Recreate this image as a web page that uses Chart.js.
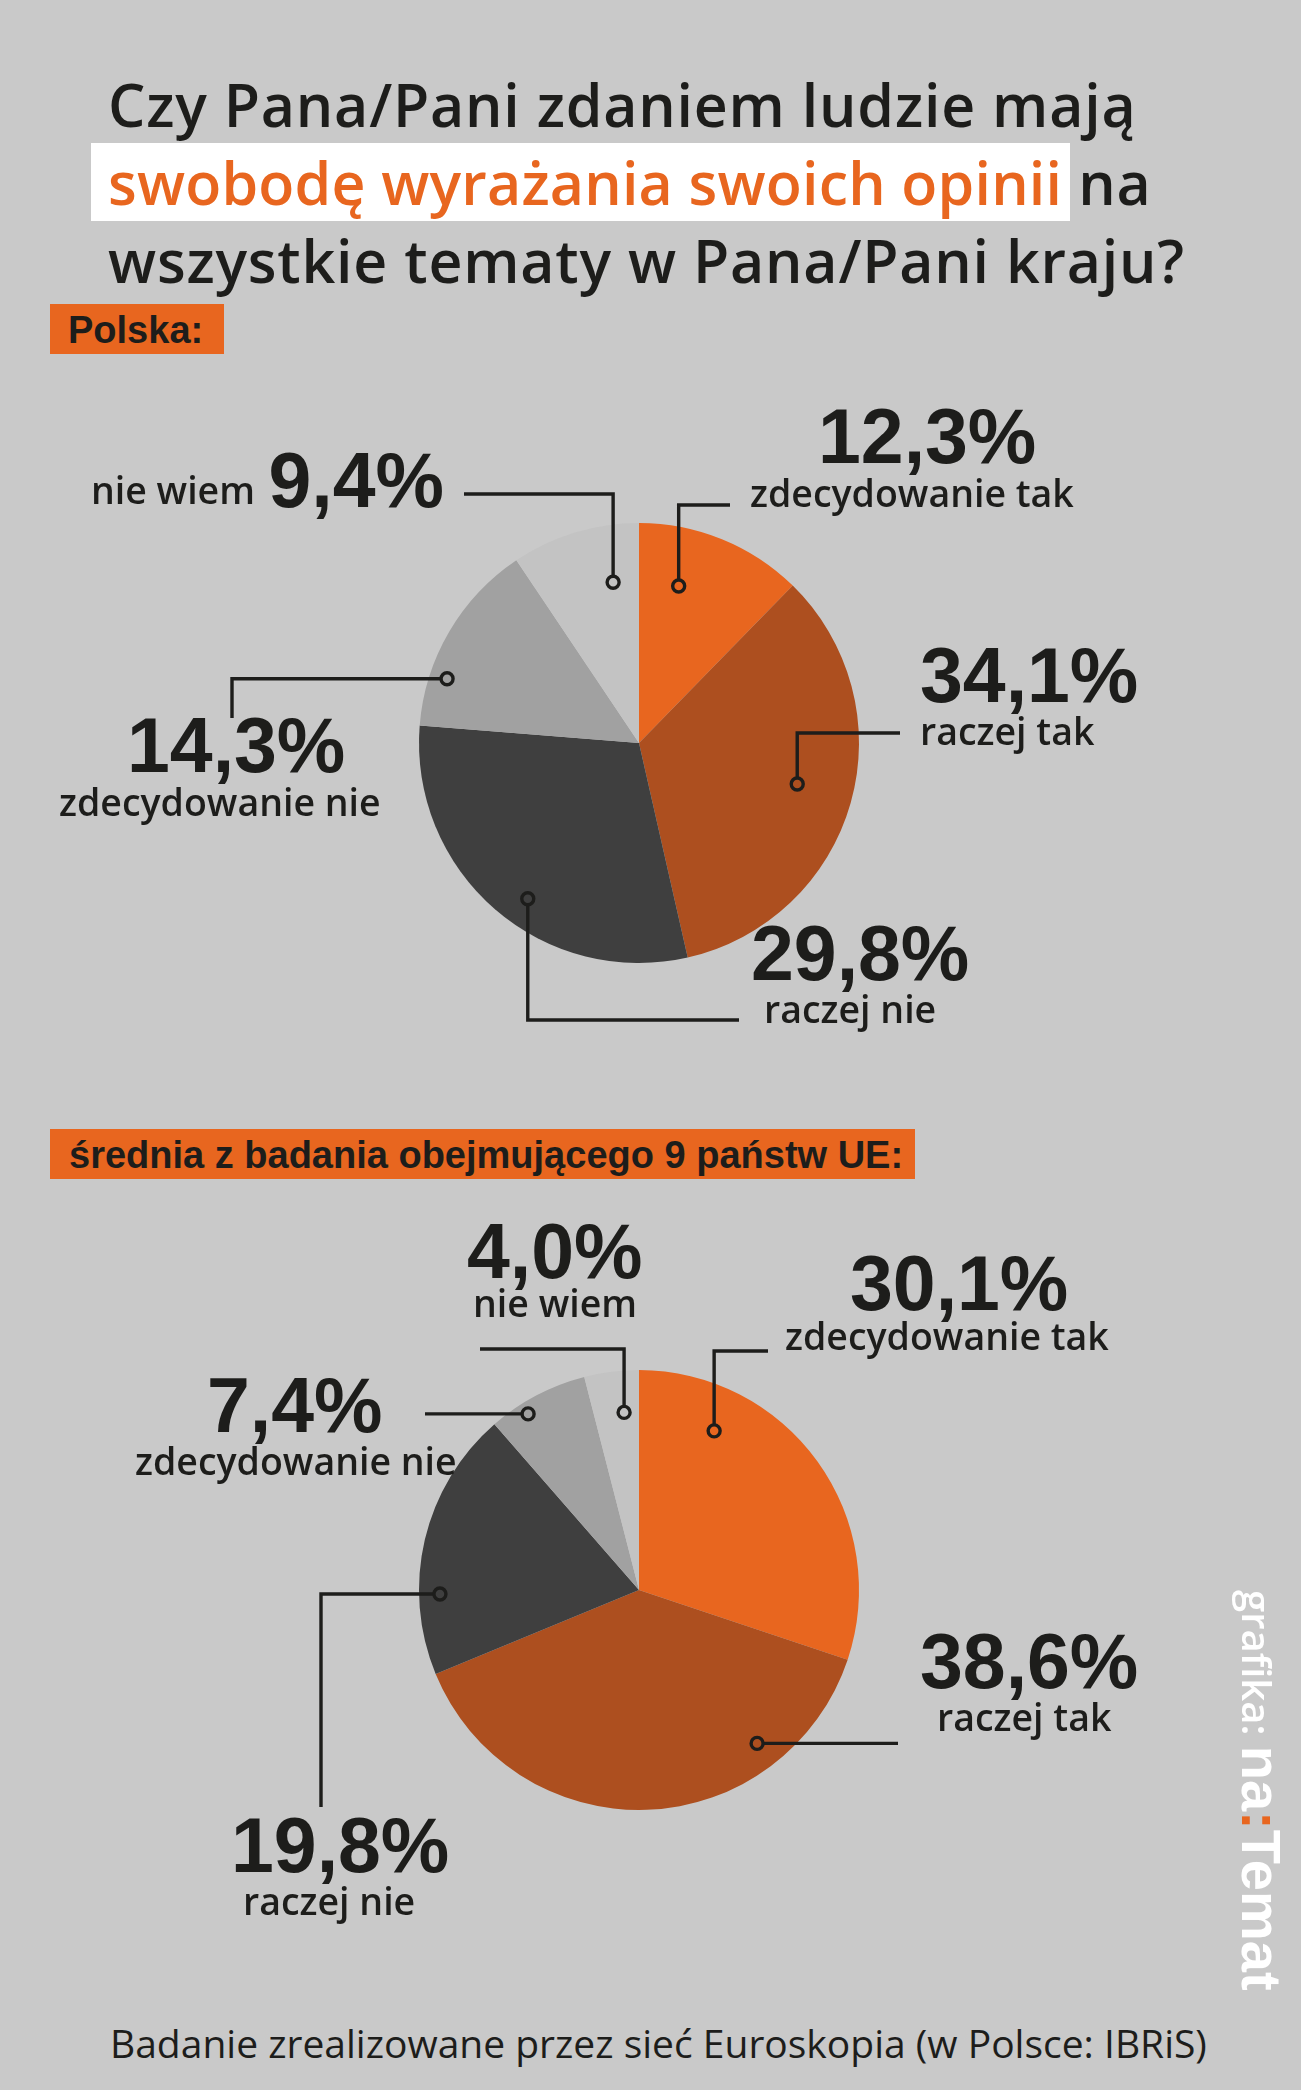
<!DOCTYPE html>
<html lang="pl">
<head>
<meta charset="utf-8">
<title>Swoboda wyrażania opinii</title>
<script src="https://cdn.jsdelivr.net/npm/chart.js@4.4.1/dist/chart.umd.min.js"></script>
<style>
  html, body { margin: 0; padding: 0; }
  body {
    width: 1301px; height: 2090px; position: relative; overflow: hidden;
    background: #c9c9c9; color: #1d1d1b;
  }
  .t { position: absolute; white-space: nowrap; line-height: 1.2; }
  .title { font-family: "Open Sans", sans-serif; font-weight: 600; font-size: 59px; letter-spacing: 0.8px; }
  .or { color: #e8661f; }
  .title .or { letter-spacing: 0.2px; }
  .hl { position: absolute; left: 91px; top: 143px; width: 979px; height: 78px; background: #fff; }
  .box { position: absolute; background: #e8661f; }
  .boxtxt { font-family: "Liberation Sans", Arial, sans-serif; font-weight: 700; font-size: 38px; }
  .foot { font-family: "Open Sans", sans-serif; font-weight: 500; font-size: 39px; }
  canvas { position: absolute; left: 0; }
  .mark {
    position: absolute; left: 1289px; top: 1590px; transform-origin: 0 0; transform: rotate(90deg);
    white-space: nowrap; color: #fff; font-family: "Liberation Sans", Arial, sans-serif;
    font-size: 56px; line-height: 56px;
  }
  .mark .g { font-family: "Open Sans", sans-serif; font-weight: 600; font-size: 40px; }
  .mark b { font-weight: 700; }
</style>
</head>
<body>

<div class="hl"></div>
<div class="t title" data-x="108" data-b="127">Czy Pana/Pani zdaniem ludzie mają</div>
<div class="t title" data-x="108" data-b="205"><span class="or">swobodę wyrażania swoich opinii</span> na</div>
<div class="t title" data-x="108" data-b="283">wszystkie tematy w Pana/Pani kraju?</div>

<div class="box" style="left:50px; top:304px; width:174px; height:50px;"></div>
<div class="t boxtxt" data-x="68" data-b="343">Polska:</div>

<canvas id="polskaChart" width="1301" height="700" style="top:370px"></canvas>

<div class="box" style="left:50px; top:1129px; width:865px; height:50px;"></div>
<div class="t boxtxt" data-x="69" data-b="1168">średnia z badania obejmującego 9 państw UE:</div>

<canvas id="ueChart" width="1301" height="760" style="top:1190px"></canvas>

<div class="t foot" data-x="110" data-b="2058">Badanie zrealizowane przez sieć Euroskopia (w Polsce: IBRiS)</div>

<div class="mark"><span class="g">grafika: </span><b>na<span class="or">:</span>Temat</b></div>

<script>
// data
const categories = ["zdecydowanie tak", "raczej tak", "raczej nie", "zdecydowanie nie", "nie wiem"];
const polskaValues = [12.3, 34.1, 29.8, 14.3, 9.4];
const ueValues = [30.1, 38.6, 19.8, 7.4, 4.0];

const sliceColors = ["#e8661f", "#ad4f1f", "#3f3f3f", "#a1a1a1", "#c3c3c3"];
const ink = "#1d1d1b";
const valueFont = "bold 77px 'Liberation Sans', Arial, sans-serif";
const nameFont = "600 37.5px 'Open Sans', sans-serif";

// leader layout: ring at fraction t of the slice, rr of radius; path moves are
// offsets from the pie centre (v = vertical to y, h = horizontal to x)
const polskaLayout = [
  { t: 0.32, rr: 0.736, path: [["v", -238], ["h", 91]],
    val: { x: 179, y: -280 }, name: { x: 111, y: -236 } },
  { t: 0.49, rr: 0.743, path: [["v", -10], ["h", 261]],
    val: { x: 281, y: -41 }, name: { x: 281, y: 2 } },
  { t: 0.45, rr: 0.87, path: [["v", 277], ["h", 100]],
    val: { x: 112, y: 237 }, name: { x: 125, y: 280 } },
  { t: 0.27, rr: 0.92, path: [["h", -407], ["v", -25]],
    val: { x: -512, y: 29 }, name: { x: -580, y: 73 } },
  { t: 0.73, rr: 0.74, path: [["v", -249], ["h", -175]],
    val: { x: -195, y: -236, align: "right" }, name: { x: -384, y: -239, align: "right" } },
];

const ueLayout = [
  { t: 0.233, rr: 0.80, path: [["v", -239], ["h", 129]],
    val: { x: 211, y: -280 }, name: { x: 146, y: -240 } },
  { t: 0.244, rr: 0.88, path: [["h", 259]],
    val: { x: 281, y: 98 }, name: { x: 298, y: 141 } },
  { t: 0.298, rr: 0.905, path: [["h", -318], ["v", 217]],
    val: { x: -408, y: 282 }, name: { x: -396, y: 325 } },
  { t: 0.333, rr: 0.946, path: [["h", -214]],
    val: { x: -432, y: -158 }, name: { x: -504, y: -115 } },
  { t: 0.667, rr: 0.81, path: [["v", -241], ["h", -159]],
    val: { x: -172, y: -312 }, name: { x: -166, y: -273 } },
];

function fmt(v) {
  return v.toFixed(1).replace(".", ",") + "%";
}

// leader lines, rings and labels drawn from each arc's geometry
const leaderPlugin = {
  id: "leaders",
  afterDatasetsDraw(chart, args, opts) {
    const ctx = chart.ctx;
    const meta = chart.getDatasetMeta(0);
    const values = chart.data.datasets[0].data;
    const ringR = 6;

    meta.data.forEach((arc, i) => {
      const L = opts.layout[i];
      const cx = arc.x, cy = arc.y, R = arc.outerRadius, k = R / 220;
      const a = arc.startAngle + L.t * (arc.endAngle - arc.startAngle);
      const rx = cx + Math.cos(a) * L.rr * R;
      const ry = cy + Math.sin(a) * L.rr * R;

      let px = rx, py = ry;
      const pts = [];
      L.path.forEach(([dir, d]) => {
        if (dir === "v") py = cy + d * k;
        else px = cx + d * k;
        pts.push([px, py]);
      });

      ctx.save();
      ctx.strokeStyle = ink;
      ctx.lineWidth = 3.4;
      ctx.lineJoin = "miter";
      const [fx, fy] = pts[0];
      const len = Math.hypot(fx - rx, fy - ry) || 1;
      ctx.beginPath();
      ctx.moveTo(rx + (fx - rx) / len * ringR, ry + (fy - ry) / len * ringR);
      pts.forEach((p) => ctx.lineTo(p[0], p[1]));
      ctx.stroke();

      ctx.beginPath();
      ctx.arc(rx, ry, ringR, 0, Math.PI * 2);
      ctx.stroke();

      ctx.fillStyle = ink;
      ctx.textBaseline = "alphabetic";
      ctx.font = valueFont;
      ctx.textAlign = L.val.align || "left";
      ctx.fillText(fmt(values[i]), cx + L.val.x * k, cy + L.val.y * k);
      ctx.font = nameFont;
      ctx.textAlign = L.name.align || "left";
      ctx.fillText(chart.data.labels[i], cx + L.name.x * k, cy + L.name.y * k);
      ctx.restore();
    });
  },
};

function makePie(canvasId, values, layout, padding) {
  return new Chart(document.getElementById(canvasId), {
    type: "pie",
    data: {
      labels: categories,
      datasets: [{
        data: values,
        backgroundColor: sliceColors,
        borderWidth: 0,
      }],
    },
    options: {
      responsive: false,
      animation: false,
      events: [],
      layout: { padding },
      plugins: {
        legend: { display: false },
        tooltip: { enabled: false },
        leaders: { layout },
      },
    },
    plugins: [leaderPlugin],
  });
}

// put text boxes so their baseline sits on data-b
function placeTexts() {
  document.querySelectorAll(".t").forEach((el) => {
    el.style.left = el.dataset.x + "px";
    el.style.top = "0px";
    const m = document.createElement("span");
    m.style.cssText = "display:inline-block;width:0;height:0;vertical-align:baseline;";
    el.appendChild(m);
    const off = m.offsetTop;
    el.removeChild(m);
    el.style.top = (parseFloat(el.dataset.b) - off) + "px";
  });
}

const fontsReady = Promise.all([
  document.fonts.load(valueFont, "0123456789,%"),
  document.fonts.load(nameFont, "zdecydowanie tak"),
  document.fonts.load("600 59px 'Open Sans'", "Czy"),
]).catch(() => {});

fontsReady.then(() => {
  placeTexts();
  makePie("polskaChart", polskaValues, polskaLayout, { top: 153, bottom: 107, left: 300, right: 323 });
  makePie("ueChart", ueValues, ueLayout, { top: 180, bottom: 140, left: 300, right: 323 });
});
</script>
</body>
</html>
